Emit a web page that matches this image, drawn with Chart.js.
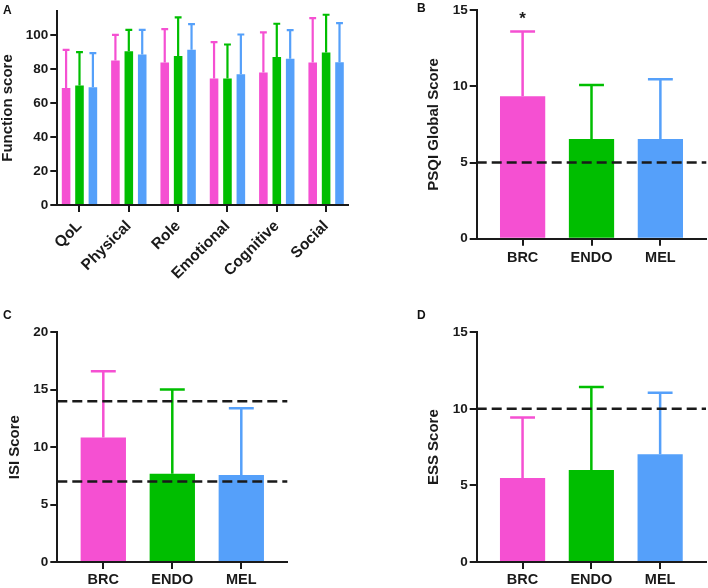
<!DOCTYPE html>
<html>
<head>
<meta charset="utf-8">
<script src="https://cdn.jsdelivr.net/npm/chart.js@4.4.1/dist/chart.umd.min.js"></script>
<style>
    html, body { margin: 0; padding: 0; background: #fff; }
    #page { position: relative; width: 708px; height: 588px; overflow: hidden; font-family: "Liberation Sans", Arial, sans-serif; }
    .panel { position: absolute; left: 0; top: 0; width: 708px; height: 588px; }
    .tag { position: absolute; font-weight: bold; font-size: 12px; line-height: 1; color: #111; }
</style>
</head>
<body>
<div id="page">
    <div class="panel"><canvas id="chartA"></canvas></div>
    <div class="panel"><canvas id="chartB"></canvas></div>
    <div class="panel"><canvas id="chartC"></canvas></div>
    <div class="panel"><canvas id="chartD"></canvas></div>
    <div class="tag" style="left:3px;top:4px">A</div>
    <div class="tag" style="left:417px;top:2px">B</div>
    <div class="tag" style="left:3px;top:309px">C</div>
    <div class="tag" style="left:417px;top:309px">D</div>
</div>
<script>
const groups = ['BRC', 'ENDO', 'MEL'];
const groupColors = ['#F550D2', '#00BE00', '#55A0FA'];

// A: function scores per domain (mean, SD)
const functionDomains = ['QoL', 'Physical', 'Role', 'Emotional', 'Cognitive', 'Social'];
const functionMeanBRC = [68.8, 84.9, 83.7, 74.3, 77.8, 83.7];
const functionMeanENDO = [70.2, 90.4, 87.5, 74.3, 86.9, 89.6];
const functionMeanMEL = [69.2, 88.4, 91.2, 76.9, 85.9, 83.9];
const functionSdBRC = [22.4, 15.1, 19.6, 21.4, 23.6, 26.1];
const functionSdENDO = [19.6, 12.5, 22.7, 20.0, 19.6, 22.2];
const functionSdMEL = [20.0, 14.5, 15.1, 23.3, 16.9, 23.0];
const functionTicks = [0, 20, 40, 60, 80, 100];

// B: PSQI
const psqiMean = [9.35, 6.54, 6.54];
const psqiSd = [4.25, 3.55, 3.92];
const psqiMarks = ['*', '', ''];
const psqiCutoffs = [5];
const psqiTicks = [0, 5, 10, 15];

// C: ISI
const isiMean = [10.85, 7.69, 7.57];
const isiSd = [5.75, 7.34, 5.81];
const isiCutoffs = [7, 14];
const isiTicks = [0, 5, 10, 15, 20];

// D: ESS
const essMean = [5.48, 6.0, 7.03];
const essSd = [3.96, 5.42, 4.02];
const essCutoffs = [10];
const essTicks = [0, 5, 10, 15];

const FONT = '"Liberation Sans", Arial, sans-serif';
const INK = '#1a1a1a';
const PAGE_W = 708;
const PAGE_H = 588;

const errorBarPlugin = {
    id: 'errorBars',
    afterDatasetsDraw(chart, args, opts) {
        const ctx = chart.ctx;
        const yScale = chart.scales.y;
        chart.data.datasets.forEach((ds, di) => {
            const meta = chart.getDatasetMeta(di);
            meta.data.forEach((bar, i) => {
                const top = yScale.getPixelForValue(ds.data[i].y + ds.errors[i]);
                const color = Array.isArray(ds.backgroundColor) ? ds.backgroundColor[i] : ds.backgroundColor;
                const half = bar.width * opts.capRatio / 2;
                ctx.save();
                ctx.strokeStyle = color;
                ctx.lineWidth = opts.lineWidth;
                ctx.beginPath();
                ctx.moveTo(bar.x, bar.y);
                ctx.lineTo(bar.x, top);
                ctx.moveTo(bar.x - half, top);
                ctx.lineTo(bar.x + half, top);
                ctx.stroke();
                if (ds.marks && ds.marks[i]) {
                    ctx.fillStyle = INK;
                    ctx.font = 'bold 17px ' + FONT;
                    ctx.textAlign = 'center';
                    ctx.textBaseline = 'middle';
                    ctx.fillText(ds.marks[i], bar.x, top - 12);
                }
                ctx.restore();
            });
        });
    }
};

const cutoffPlugin = {
    id: 'cutoffs',
    afterDatasetsDraw(chart, args, opts) {
        const { ctx, chartArea } = chart;
        const yScale = chart.scales.y;
        (opts.values || []).forEach(v => {
            const py = yScale.getPixelForValue(v);
            ctx.save();
            ctx.setLineDash([10, 5]);
            ctx.lineWidth = 2.5;
            ctx.strokeStyle = INK;
            ctx.beginPath();
            ctx.moveTo(chartArea.left, py);
            ctx.lineTo(chartArea.right, py);
            ctx.stroke();
            ctx.restore();
        });
    }
};

function boldFont(size, lineHeight) {
    return { family: FONT, size: size, weight: 'bold', lineHeight: lineHeight || 1.2 };
}

function yAxis(ticks, max, title, width) {
    return {
        min: 0,
        max: max,
        border: { display: true, color: INK, width: 2 },
        grid: { drawOnChartArea: false, drawTicks: true, tickLength: 7, color: INK, lineWidth: 2 },
        afterBuildTicks: scale => { scale.ticks = ticks.map(v => ({ value: v })); },
        ticks: { color: INK, font: boldFont(13.5), padding: 2 },
        title: { display: true, text: title, color: INK, font: boldFont(15, 1), padding: 0 },
        afterFit: scale => { scale.width = width; }
    };
}

function xAxis(labels, min, max, height, rotation, fontSize, labelGap) {
    return {
        type: 'linear',
        min: min,
        max: max,
        offset: false,
        border: { display: true, color: INK, width: 2 },
        grid: { offset: false, drawOnChartArea: false, drawTicks: true, tickLength: 7, color: INK, lineWidth: 2 },
        afterBuildTicks: scale => { scale.ticks = labels.map((_, i) => ({ value: i + 1 })); },
        ticks: {
            autoSkip: false,
            minRotation: rotation,
            maxRotation: rotation,
            color: INK,
            font: boldFont(fontSize),
            padding: labelGap,
            callback: v => labels[Math.round(v) - 1] || ''
        },
        afterFit: scale => { scale.height = height; }
    };
}

// area = [left, top, right, bottom] of the plot box on the page
function renderPanel(id, area, yWidth, xHeight, datasets, scales, plugins) {
    new Chart(document.getElementById(id), {
        type: 'bar',
        data: { datasets: datasets },
        options: {
            responsive: true,
            maintainAspectRatio: false,
            animation: false,
            layout: {
                padding: {
                    left: area[0] - yWidth,
                    top: area[1],
                    right: PAGE_W - area[2],
                    bottom: PAGE_H - area[3] - xHeight
                }
            },
            scales: scales,
            plugins: Object.assign({ legend: { display: false }, tooltip: { enabled: false } }, plugins)
        },
        plugins: [errorBarPlugin, cutoffPlugin]
    });
}

function groupBars(means, sds, marks) {
    return [{
        data: groups.map((g, i) => ({ x: i + 1, y: means[i] })),
        errors: sds,
        marks: marks,
        backgroundColor: groupColors,
        borderWidth: 0,
        categoryPercentage: 1,
        barPercentage: 0.657
    }];
}

function domainBars(means, sds, color) {
    return {
        data: functionDomains.map((d, i) => ({ x: i + 1, y: means[i] })),
        errors: sds,
        backgroundColor: color,
        borderWidth: 0,
        categoryPercentage: 0.815,
        barPercentage: 0.64
    };
}

renderPanel('chartA', [57.3, 11, 348.3, 205], 57.3, 80, [
    domainBars(functionMeanBRC, functionSdBRC, groupColors[0]),
    domainBars(functionMeanENDO, functionSdENDO, groupColors[1]),
    domainBars(functionMeanMEL, functionSdMEL, groupColors[2])
], {
    x: xAxis(functionDomains, 0.55, 6.45, 80, 45, 15.5, 5),
    y: yAxis(functionTicks, 114, 'Function score', 57.3)
}, { errorBars: { capRatio: 0.8, lineWidth: 2.2 }, cutoffs: { values: [] } });

renderPanel('chartB', [476.7, 9.3, 706.3, 238.7], 50.2, 40, groupBars(psqiMean, psqiSd, psqiMarks), {
    x: xAxis(groups, 1 / 3, 11 / 3, 40, 0, 14.5, 4),
    y: yAxis(psqiTicks, 15, 'PSQI Global Score', 50.2)
}, { errorBars: { capRatio: 0.55, lineWidth: 2.5 }, cutoffs: { values: psqiCutoffs } });

renderPanel('chartC', [57.3, 332.3, 287.3, 562], 49.8, 26, groupBars(isiMean, isiSd, null), {
    x: xAxis(groups, 1 / 3, 11 / 3, 26, 0, 14.5, 2),
    y: yAxis(isiTicks, 20, 'ISI Score', 49.8)
}, { errorBars: { capRatio: 0.55, lineWidth: 2.5 }, cutoffs: { values: isiCutoffs } });

renderPanel('chartD', [476.7, 332.3, 706, 562], 50.2, 26, groupBars(essMean, essSd, null), {
    x: xAxis(groups, 1 / 3, 11 / 3, 26, 0, 14.5, 2),
    y: yAxis(essTicks, 15, 'ESS Score', 50.2)
}, { errorBars: { capRatio: 0.55, lineWidth: 2.5 }, cutoffs: { values: essCutoffs } });
</script>
</body>
</html>
